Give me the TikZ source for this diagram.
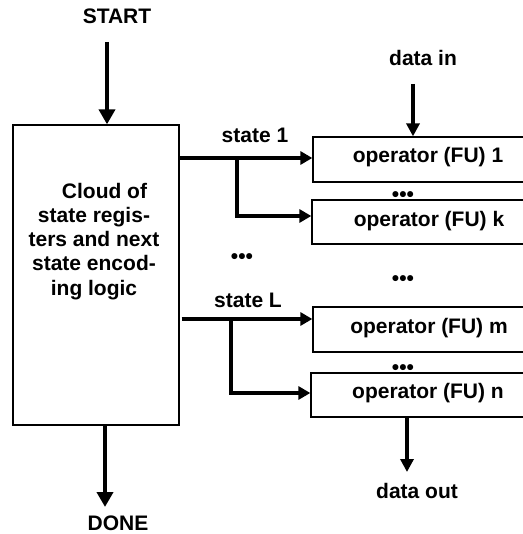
\documentclass[tikz,border=0pt]{standalone}
\usepackage{fontspec}
\setmainfont{Liberation Sans}
\usetikzlibrary{arrows.meta}
\begin{document}
\begin{tikzpicture}[x=1pt,y=-1pt,
  txt/.style={font=\bfseries\fontsize{21}{24.3}\selectfont, inner sep=0pt, anchor=base},
  box/.style={draw, line width=1.3pt, inner sep=0pt, fill=white},
  bigarrow/.style={line width=4.6pt, -{Triangle[length=15pt,width=16pt]}},
  statearrow/.style={line width=4.4pt, line join=miter, -{Triangle[length=12pt,width=13pt]}},
  midarrow/.style={line width=3.6pt, -{Triangle[length=13pt,width=13pt]}}]
\useasboundingbox (0,0) rectangle (522,534);
% main box
\node[box, minimum width=166pt, minimum height=300pt] (cloud) at (96,275) {};
\node[txt, align=center] (cloudtxt) at (94,295.2) {\hspace*{21pt}Cloud of\\state regis-\\ters and next\\state encod-\\ing logic};
% operator boxes
\node[box, minimum width=211pt, minimum height=45pt] (b1) at (418.5,159.5) {};
\node[box, minimum width=212pt, minimum height=44pt] (bk) at (418,222) {};
\node[box, minimum width=211pt, minimum height=45pt] (bm) at (418.5,329.5) {};
\node[box, minimum width=213pt, minimum height=44pt] (bn) at (417.5,395) {};
\node[txt] (t1) at (428,163) {operator (FU) 1};
\node[txt] (tk) at (429,226) {operator (FU) k};
\node[txt] (tm) at (429,333) {operator (FU) m};
\node[txt] (tn) at (428,398) {operator (FU) n};
% labels
\node[txt] (start) at (117,24) {START};
\node[txt] (done) at (118,530) {DONE};
\node[txt] (din) at (423,66) {data in};
\node[txt] (dout) at (417,498) {data out};
\node[txt] (s1) at (255,143) {state 1};
\node[txt] (sL) at (248,307) {state L};
% dots
\node[txt] (d1) at (403,201.5) {•••};
\node[txt] (d2) at (242,263.5) {•••};
\node[txt] (d3) at (403,285.5) {•••};
\node[txt] (d4) at (403,374.5) {•••};
% connectors
\coordinate (s0) at (107,42);
\draw[bigarrow] (s0) -- (s0 |- cloud.north);
\coordinate (e0) at (105,507);
\draw[bigarrow] (e0 |- cloud.south) -- (e0);
\coordinate (j1) at (237,158);
\draw[statearrow] (cloud.east |- j1) -- (b1.west |- j1);
\draw[statearrow] (j1) |- ([yshift=6pt]bk.west);
\coordinate (jl) at (231,319);
\draw[statearrow] ([xshift=2pt]cloud.east |- jl) -- (bm.west |- jl);
\draw[statearrow] (jl) |- ([yshift=2pt]bn.west);
\coordinate (di) at (413,84);
\draw[midarrow] (di) -- (di |- b1.north);
\coordinate (do) at (407,472);
\draw[midarrow] (do |- bn.south) -- (do);
\end{tikzpicture}
\end{document}
